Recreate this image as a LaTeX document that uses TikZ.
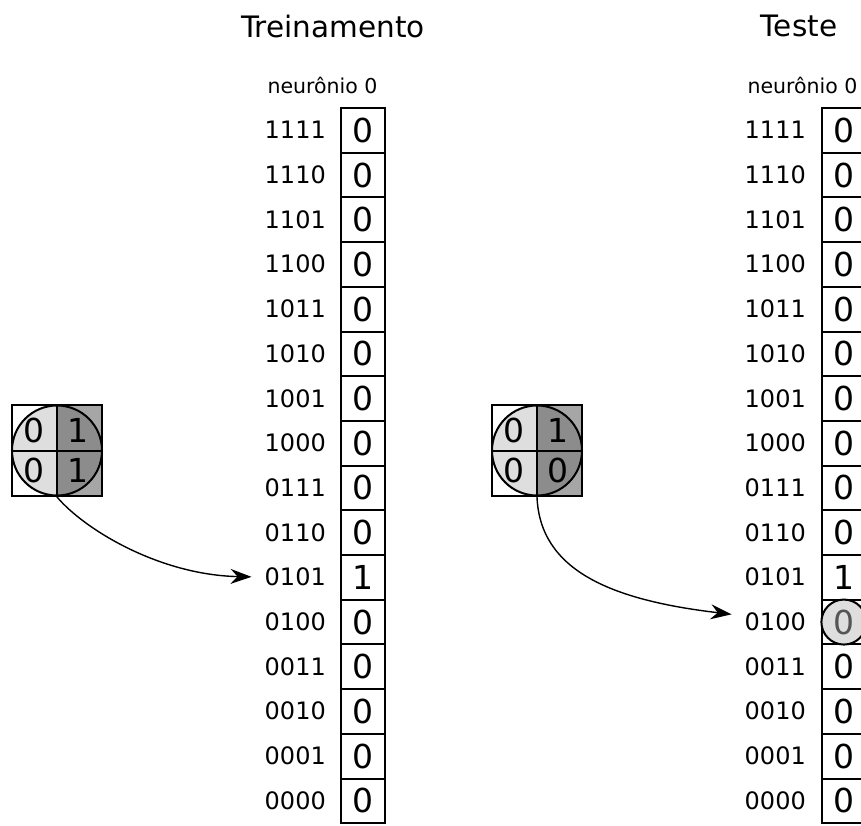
\documentclass[tikz,border=0pt]{standalone}
\usepackage{fontspec}
\setmainfont{DejaVu Sans}
\usetikzlibrary{arrows.meta}
\definecolor{lg}{RGB}{222,222,222}
\definecolor{mg}{RGB}{166,166,166}
\definecolor{dg}{RGB}{140,140,140}
\definecolor{hltext}{RGB}{85,85,85}
\begin{document}
\begin{tikzpicture}[x=1pt,y=-1pt,
  cellbox/.style={draw=black,line width=2pt,minimum width=44.3pt,minimum height=44.7pt,inner sep=0pt,font=\fontsize{33}{33}\selectfont},
  lbl/.style={anchor=base east,inner sep=0pt,font=\fontsize{24}{24}\selectfont},
  ttl/.style={inner sep=0pt,font=\fontsize{29.5}{29.5}\selectfont},
  neur/.style={anchor=base west,inner sep=0pt,font=\fontsize{20.5}{20.5}\selectfont},
  qdig/.style={inner sep=0pt,font=\fontsize{33}{33}\selectfont},
  arr/.style={line width=1.4pt,-{Stealth[length=21pt,width=15pt,inset=7pt]},shorten >=13pt},
  gline/.style={line width=2pt}]
\useasboundingbox (0,0) rectangle (861,825);
\clip (0,0) rectangle (861,825);

% titles
\node[ttl] (t1) at (333,26) {Treinamento};
\node[ttl] (t2) at (799,26) {Teste};
\node[neur] (n1) at (267.3,93) {neurônio 0};
\node[neur] (n2) at (747.3,93) {neurônio 0};

% columns
\foreach \lab/\va [count=\i from 0] in {1111/0,1110/0,1101/0,1100/0,1011/0,1010/0,1001/0,1000/0,0111/0,0110/0,0101/1,0100/0,0011/0,0010/0,0001/0,0000/0}{
  \pgfmathsetmacro\cy{108+44.7*(\i+0.5)}
  \node[lbl] (La\lab) at (326,\cy+8.5) {\lab};
  \node[cellbox] (Ca\lab) at (363.2,\cy) {\va};
  \node[lbl] (Lb\lab) at (806,\cy+8.5) {\lab};
}
\foreach \lab/\vb [count=\i from 0] in {1111/0,1110/0,1101/0,1100/0,1011/0,1010/0,1001/0,1000/0,0111/0,0110/0,0101/1,0100/{},0011/0,0010/0,0001/0,0000/0}{
  \pgfmathsetmacro\cy{108+44.7*(\i+0.5)}
  \node[cellbox] (Cb\lab) at (843.9,\cy) {\vb};
}
\node[circle,draw=black,line width=2pt,fill=lg,minimum size=45pt,inner sep=0pt,text=hltext,font=\fontsize{33}{33}\selectfont] (hl) at (Cb0100) {0};

% 2x2 grids
\foreach \gx/\nm/\a/\b/\c/\d in {57/gL/0/1/0/1, 537/gR/0/1/0/0}{
  \fill[mg] (\gx,405) rectangle (\gx+45,496);
  \begin{scope}
    \clip (\gx,450.5) circle (45);
    \fill[lg] (\gx-45,405) rectangle (\gx,496);
    \fill[dg] (\gx,405) rectangle (\gx+45,496);
  \end{scope}
  \node[draw=black,gline,minimum width=90pt,minimum height=91pt,inner sep=0pt] (\nm) at (\gx,450.5) {};
  \draw[gline] (\nm.north) -- (\nm.south);
  \draw[gline] (\nm.west) -- (\nm.east);
  \draw[gline] (\gx,450.5) circle (45);
  \node[qdig] (\nm a) at (\gx-23,430) {\a};
  \node[qdig] (\nm b) at (\gx+21,430) {\b};
  \node[qdig] (\nm c) at (\gx-23,470) {\c};
  \node[qdig] (\nm d) at (\gx+21,470) {\d};
}

% arrows
\draw[arr] (gL.south) .. controls (85,530) and (160,575) .. (La0101.west);
\draw[arr] (gR.south) .. controls (540,570) and (610,600) .. ([yshift=6pt]Lb0100.west);
\end{tikzpicture}
\end{document}
